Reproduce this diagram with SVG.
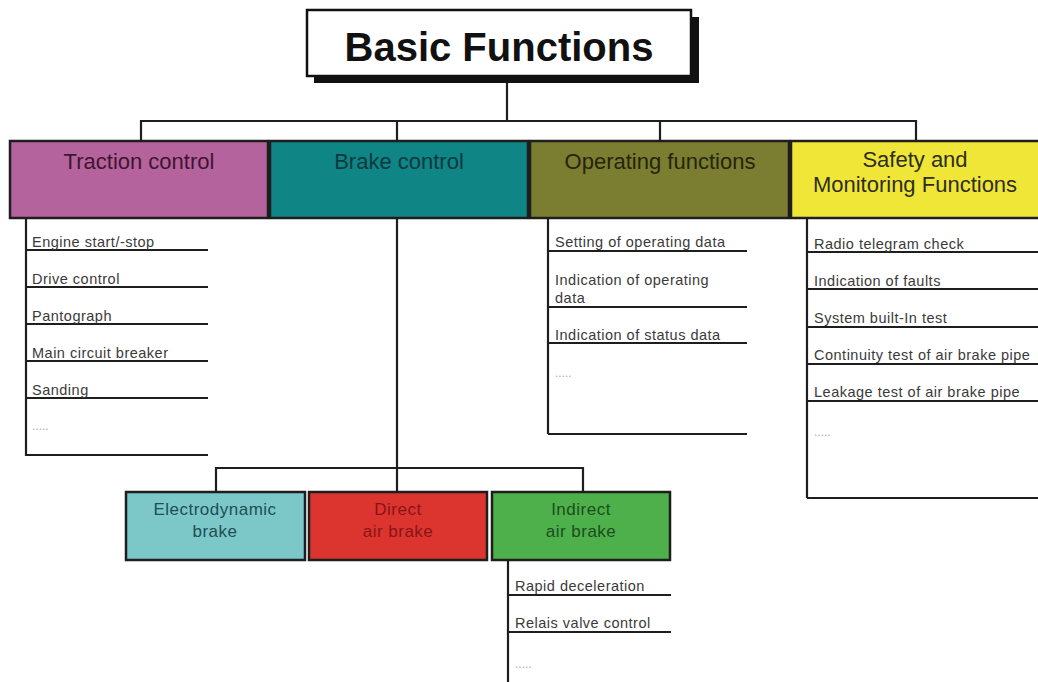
<svg xmlns="http://www.w3.org/2000/svg" width="1038" height="682" viewBox="0 0 1038 682">
<style>
.ln{stroke:#1e1e1e;stroke-width:2.2;fill:none}
.box{stroke:#1e1e1e;stroke-width:2.5}
.cat{font-family:"Liberation Sans",Arial,sans-serif;font-size:22px;text-anchor:middle}
.sub{font-family:"Liberation Sans",Arial,sans-serif;font-size:17px;text-anchor:middle;letter-spacing:0.5px}
.item{font-family:"Liberation Sans",Arial,sans-serif;font-size:14.5px;fill:#3a3a3a;letter-spacing:0.5px}
.dots{font-family:"Liberation Sans",Arial,sans-serif;font-size:12px;fill:#aaa}
</style>
<rect width="1038" height="682" fill="#fff"/>
<g id="connectors">
<path class="ln" d="M507 78V121M141 121H916M141 120V142M397 120V142M660 120V142M916 120V142"/>
<path class="ln" d="M397 218V468M216 468H583M216 467V493M397 467V493M583 467V493"/>
<path class="ln" d="M26 218V456M548 218V434M807 218V498M508 560V682"/>
</g>
<g id="title">
<rect x="314" y="17" width="385" height="66" fill="#111"/>
<rect x="307" y="10" width="384" height="66" fill="#fff" stroke="#111" stroke-width="2.5"/>
<text x="499" y="61" font-family="Liberation Sans,Arial,sans-serif" font-size="40" font-weight="bold" text-anchor="middle" fill="#111">Basic Functions</text>
</g>
<g id="traction">
<rect class="box" x="10" y="141" width="258" height="77" fill="#b5639c"/>
<text class="cat" x="139" y="169" fill="#3f1533">Traction control</text>
</g>
<g id="brake">
<rect class="box" x="270" y="141" width="258" height="77" fill="#0f8585"/>
<text class="cat" x="399" y="169" fill="#0d3a40">Brake control</text>
</g>
<g id="operating">
<rect class="box" x="530" y="141" width="259" height="77" fill="#7b7d30"/>
<text class="cat" x="660" y="169" fill="#25250e">Operating functions</text>
</g>
<g id="safety">
<rect class="box" x="791" y="141" width="252" height="77" fill="#efe638"/>
<text class="cat" x="915" y="167" fill="#2e2e20">Safety and</text>
<text class="cat" x="915" y="192" fill="#2e2e20">Monitoring Functions</text>
</g>
<g id="traction-list">
<path class="ln" d="M26 250H208M26 287H208M26 324H208M26 361H208M26 398H208M26 455H208"/>
<text class="item" x="32" y="247">Engine start/-stop</text>
<text class="item" x="32" y="284">Drive control</text>
<text class="item" x="32" y="321">Pantograph</text>
<text class="item" x="32" y="358">Main circuit breaker</text>
<text class="item" x="32" y="395">Sanding</text>
<text class="dots" x="32" y="430">.....</text>
</g>
<g id="operating-list">
<path class="ln" d="M548 251H747M548 307H747M548 343H747M548 434H747"/>
<text class="item" x="555" y="247">Setting of operating data</text>
<text class="item" x="555" y="285">Indication of operating</text>
<text class="item" x="555" y="303">data</text>
<text class="item" x="555" y="340">Indication of status data</text>
<text class="dots" x="555" y="377">.....</text>
</g>
<g id="safety-list">
<path class="ln" d="M807 252H1038M807 289H1038M807 327H1038M807 364H1038M807 401H1038M807 498H1038"/>
<text class="item" x="814" y="249">Radio telegram check</text>
<text class="item" x="814" y="286">Indication of faults</text>
<text class="item" x="814" y="323">System built-In test</text>
<text class="item" x="814" y="360">Continuity test of air brake pipe</text>
<text class="item" x="814" y="397">Leakage test of air brake pipe</text>
<text class="dots" x="814" y="436">.....</text>
</g>
<g id="electrodynamic">
<rect class="box" x="126" y="492" width="179" height="68" fill="#7cc7c7"/>
<text class="sub" x="215" y="515" fill="#1d4f55">Electrodynamic</text>
<text class="sub" x="215" y="537" fill="#1d4f55">brake</text>
</g>
<g id="direct">
<rect class="box" x="309" y="492" width="178" height="68" fill="#dc3530"/>
<text class="sub" x="398" y="515" fill="#8a1414">Direct</text>
<text class="sub" x="398" y="537" fill="#8a1414">air brake</text>
</g>
<g id="indirect">
<rect class="box" x="492" y="492" width="178" height="68" fill="#4eb04a"/>
<text class="sub" x="581" y="515" fill="#1c4d1c">Indirect</text>
<text class="sub" x="581" y="537" fill="#1c4d1c">air brake</text>
</g>
<g id="indirect-list">
<path class="ln" d="M508 595H671M508 632H671"/>
<text class="item" x="515" y="591">Rapid deceleration</text>
<text class="item" x="515" y="628">Relais valve control</text>
<text class="dots" x="515" y="668">.....</text>
</g>
</svg>
